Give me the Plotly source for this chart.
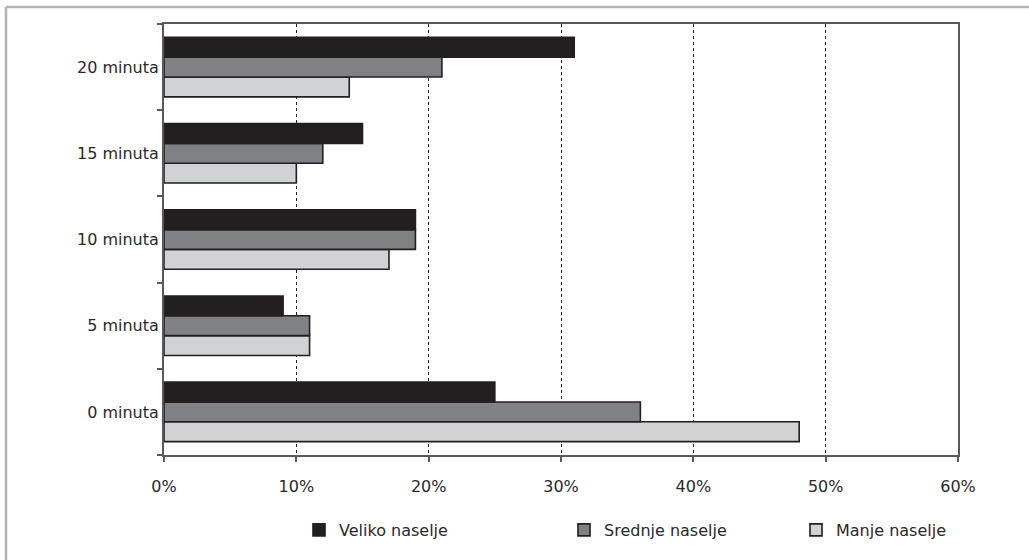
import plotly.graph_objects as go

categories = ["0 minuta", "5 minuta", "10 minuta", "15 minuta", "20 minuta"]
veliko = [25, 9, 19, 15, 31]
srednje = [36, 11, 19, 12, 21]
manje = [48, 11, 17, 10, 14]
series_names = ["Veliko naselje", "Srednje naselje", "Manje naselje"]
x_ticks = [0, 10, 20, 30, 40, 50, 60]
x_tick_labels = ["0%", "10%", "20%", "30%", "40%", "50%", "60%"]

colors = {"Veliko naselje": "#231f20", "Srednje naselje": "#808184", "Manje naselje": "#d1d2d4"}
values = {"Veliko naselje": veliko, "Srednje naselje": srednje, "Manje naselje": manje}
legend_ids = {"Veliko naselje": "legend", "Srednje naselje": "legend2", "Manje naselje": "legend3"}

W, H = 1029, 560
L, R, T, B = 164, 71, 24, 105
pw, ph = W - L - R, H - T - B

def px_x(px):
    return (px - L) / pw

def px_y(py):
    return (H - B - py) / ph

fig = go.Figure()
for name in ["Manje naselje", "Srednje naselje", "Veliko naselje"]:
    fig.add_trace(go.Bar(
        y=categories, x=values[name], orientation="h", name=name,
        marker=dict(color=colors[name], line=dict(color="#231f20", width=1.6)),
        legend=legend_ids[name],
    ))

font = dict(family="DejaVu Sans, sans-serif", size=16, color="#2b2829")
leg_common = dict(orientation="h", xanchor="left", yanchor="middle", bgcolor="rgba(0,0,0,0)",
                  font=font, itemwidth=30, borderwidth=0)
fig.update_layout(
    width=W, height=H,
    margin=dict(l=L, r=R, t=T, b=B),
    paper_bgcolor="white", plot_bgcolor="white",
    font=font,
    barmode="group", bargap=0.31, bargroupgap=0.0,
    showlegend=True,
    legend=dict(x=px_x(299), y=px_y(530), **leg_common),
    legend2=dict(x=px_x(564), y=px_y(530), **leg_common),
    legend3=dict(x=px_x(796), y=px_y(530), **leg_common),
    xaxis=dict(
        range=[0, 60], tickvals=x_ticks, ticktext=x_tick_labels,
        showgrid=True, gridcolor="#231f20", griddash="dot", gridwidth=1,
        showline=True, linecolor="#58595b", linewidth=2, mirror=True,
        ticks="outside", ticklen=5, tickcolor="#58595b", tickwidth=1.5,
        ticklabelstandoff=11, zeroline=False,
    ),
    yaxis=dict(
        categoryorder="array", categoryarray=categories,
        showline=True, linecolor="#58595b", linewidth=2, mirror=True,
        ticks="outside", ticklen=5, tickcolor="#58595b", tickwidth=1.5,
        tickson="boundaries", showgrid=False, zeroline=False,
    ),
    shapes=[
        dict(type="line", xref="paper", yref="paper", x0=px_x(6), x1=px_x(1029), y0=px_y(7), y1=px_y(7),
             line=dict(color="#b3b3b5", width=2.5)),
        dict(type="line", xref="paper", yref="paper", x0=px_x(6), x1=px_x(6), y0=px_y(7), y1=px_y(560),
             line=dict(color="#b3b3b5", width=2.5)),
    ],
)

fig.write_html("out.html", config={"displayModeBar": False},
               post_script="document.body.style.margin='0';")
